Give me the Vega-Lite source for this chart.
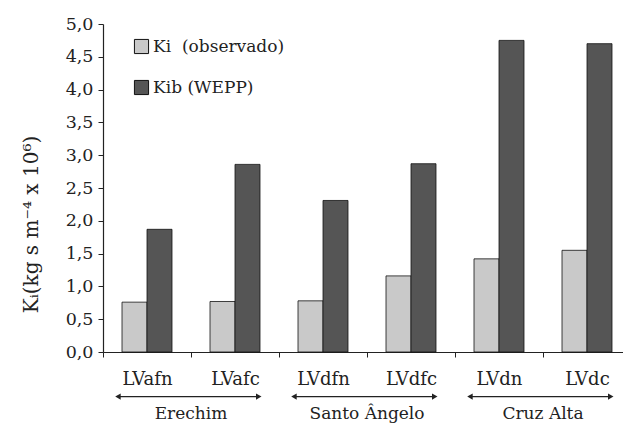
{
  "$schema": "https://vega.github.io/schema/vega-lite/v6.json",
  "autosize": {"type": "none"},
  "width": 528,
  "height": 328,
  "padding": {"left": 103, "top": 24, "right": -8, "bottom": 71},
  "background": "white",
  "config": {
    "view": {"stroke": null},
    "font": "DejaVu Serif",
    "axis": {"labelFont": "DejaVu Serif", "titleFont": "DejaVu Serif", "labelColor": "#222", "titleColor": "#222", "domainColor": "#222", "tickColor": "#222", "grid": false}
  },
  "resolve": {"scale": {"y": "independent"}, "axis": {"y": "independent"}},
  "datasets": {
    "bars": [
      {"solo": "LVafn", "serie": "Ki\u00a0 (observado)", "k": 0.76},
      {"solo": "LVafn", "serie": "Kib (WEPP)", "k": 1.87},
      {"solo": "LVafc", "serie": "Ki\u00a0 (observado)", "k": 0.77},
      {"solo": "LVafc", "serie": "Kib (WEPP)", "k": 2.86},
      {"solo": "LVdfn", "serie": "Ki\u00a0 (observado)", "k": 0.78},
      {"solo": "LVdfn", "serie": "Kib (WEPP)", "k": 2.31},
      {"solo": "LVdfc", "serie": "Ki\u00a0 (observado)", "k": 1.16},
      {"solo": "LVdfc", "serie": "Kib (WEPP)", "k": 2.87},
      {"solo": "LVdn", "serie": "Ki\u00a0 (observado)", "k": 1.42},
      {"solo": "LVdn", "serie": "Kib (WEPP)", "k": 4.75},
      {"solo": "LVdc", "serie": "Ki\u00a0 (observado)", "k": 1.55},
      {"solo": "LVdc", "serie": "Kib (WEPP)", "k": 4.70}
    ],
    "grupos": [
      {"grupo": "Erechim", "c1": "LVafn", "c2": "LVafc"},
      {"grupo": "Santo Ângelo", "c1": "LVdfn", "c2": "LVdfc"},
      {"grupo": "Cruz Alta", "c1": "LVdn", "c2": "LVdc"}
    ]
  },
  "layer": [
    {
      "data": {"name": "bars"},
      "mark": {"type": "bar", "stroke": "#111", "strokeWidth": 0.8},
      "encoding": {
        "x": {
          "field": "solo", "type": "nominal", "sort": null,
          "scale": {"domain": ["LVafn", "LVafc", "LVdfn", "LVdfc", "LVdn", "LVdc"], "paddingInner": 0, "paddingOuter": 0},
          "axis": {"title": null, "labelAngle": 0, "labelFontSize": 18, "tickBand": "extent", "tickSize": 5, "labelPadding": 13, "domainWidth": 1.2}
        },
        "xOffset": {
          "field": "serie", "type": "nominal", "sort": null,
          "scale": {"paddingInner": 0, "paddingOuter": 0.76}
        },
        "y": {
          "field": "k", "type": "quantitative",
          "scale": {"domain": [0, 5], "nice": false},
          "axis": {"title": "Kᵢ(kg s m⁻⁴ x 10⁶)", "titleFontSize": 20, "titleFontWeight": "normal", "titlePadding": 24, "titleY": 200, "labelFontSize": 17.5, "values": [0, 0.5, 1, 1.5, 2, 2.5, 3, 3.5, 4, 4.5, 5], "labelOverlap": false, "labelExpr": "replace(format(datum.value, '.1f'), '.', ',')", "tickSize": 5, "labelPadding": 5, "domainWidth": 1.2}
        },
        "color": {
          "field": "serie", "type": "nominal", "sort": null,
          "scale": {"range": ["#c9c9c9", "#555555"]},
          "legend": {"title": null, "orient": "none", "legendX": 30, "legendY": 14, "symbolType": "square", "symbolSize": 200, "symbolStrokeColor": "#111", "symbolStrokeWidth": 1, "labelFontSize": 17, "labelFont": "DejaVu Serif", "labelColor": "#222", "rowPadding": 22, "labelOffset": 3}
        }
      }
    },
    {
      "data": {"name": "grupos"},
      "encoding": {
        "y": {"datum": -0.68, "type": "quantitative", "scale": {"domain": [0, 5], "nice": false}, "axis": null}
      },
      "layer": [
        {
          "mark": {"type": "rule", "color": "#222", "strokeWidth": 1.2},
          "encoding": {
            "x": {"field": "c1", "type": "nominal", "bandPosition": 0.17},
            "x2": {"field": "c2", "bandPosition": 0.77}
          }
        },
        {
          "mark": {"type": "point", "shape": "triangle-left", "filled": true, "color": "#222", "size": 40, "opacity": 1},
          "encoding": {
            "x": {"field": "c1", "type": "nominal", "bandPosition": 0.17}
          }
        },
        {
          "mark": {"type": "point", "shape": "triangle-right", "filled": true, "color": "#222", "size": 40, "opacity": 1},
          "encoding": {
            "x": {"field": "c2", "type": "nominal", "bandPosition": 0.77}
          }
        },
        {
          "mark": {"type": "text", "fontSize": 17, "font": "DejaVu Serif", "color": "#222", "baseline": "middle", "align": "center"},
          "encoding": {
            "x": {"field": "c1", "type": "nominal", "bandPosition": 1},
            "y": {"datum": -0.94, "type": "quantitative"},
            "text": {"field": "grupo"}
          }
        }
      ]
    }
  ]
}
